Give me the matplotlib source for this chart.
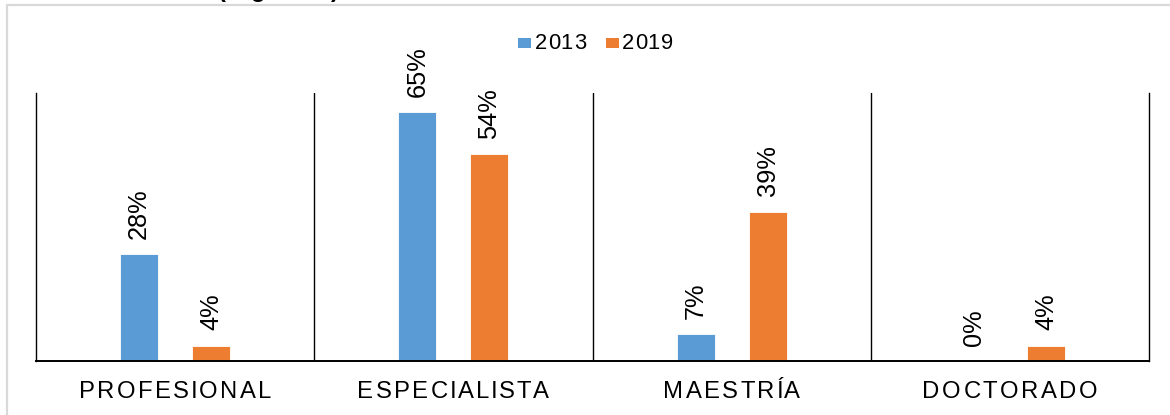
import matplotlib
matplotlib.use("Agg")
import matplotlib.pyplot as plt
import matplotlib.transforms as mtransforms
from matplotlib.patches import Rectangle
from matplotlib.font_manager import FontProperties, findfont
from matplotlib.ft2font import FT2Font, LoadFlags

# ---------------- data ----------------
categories = ["PROFESIONAL", "ESPECIALISTA", "MAESTRÍA", "DOCTORADO"]
series_names = ["2013", "2019"]
values_2013 = [28, 65, 7, 0]
values_2019 = [4, 54, 39, 4]
colors = ["#5B9BD5", "#ED7D31"]

FONT = "Liberation Sans"
STRETCH = 1.14  # reference text is horizontally stretched

W, H, DPI = 1170, 415, 100
fig = plt.figure(figsize=(W / DPI, H / DPI), dpi=DPI)
fig.patch.set_facecolor("white")

# chart frame (light gray, partly outside the picture)
fig.patches.append(Rectangle((7 / W, -0.2), 1.2, 1 - 5 / H + 0.2, transform=fig.transFigure,
                             fill=False, edgecolor="#D9D9D9", linewidth=1.6, zorder=0))


def advances(s, prop):
    f = FT2Font(findfont(prop))
    f.set_size(prop.get_size_in_points(), 72)
    out = []
    for c in s:
        g = f.load_char(ord(c), flags=LoadFlags.NO_HINTING)
        out.append(g.linearHoriAdvance / 65536.0)
    return out


def stretched_text(x, y, s, size, transform, ha="center", color="black", weight="normal", k=STRETCH):
    prop = FontProperties(family=FONT, size=size, weight=weight)
    adv = advances(s, prop)
    total = k * sum(adv)
    if ha == "center":
        start = -total / 2
    elif ha == "left":
        start = 0.0
    else:
        start = -total
    pos = start
    for c, a in zip(s, adv):
        off = mtransforms.offset_copy(transform, fig=fig, x=pos + (k - 1) * a / 2, y=0, units="points")
        fig.text(x, y, c, fontproperties=prop, color=color, ha="left", va="baseline",
                 transform=off, clip_on=False)
        pos += k * a


# partial caption cut at the top of the picture
stretched_text(217 / W, 1 + 3.5 / H, "(Figura 1)", 17, fig.transFigure, ha="left", weight="bold")

# axes
ax = fig.add_axes([36 / W, 54 / H, 1113 / W, 268 / H])
ax.set_xlim(-0.5, len(categories) - 0.5)
ax.set_ylim(0, 70)
ax.spines["top"].set_visible(False)
for side in ["left", "right"]:
    ax.spines[side].set_color("black")
    ax.spines[side].set_linewidth(1.0)
ax.spines["bottom"].set_color("black")
ax.spines["bottom"].set_linewidth(1.4)
ax.set_xticks([])
ax.set_yticks([])
for sep in [0.5, 1.5, 2.5]:
    ax.axvline(sep, color="black", linewidth=1.0)

bw = 38 / 278.25
off = 36 / 278.25
xs = list(range(len(categories)))
for vals, col, sgn in [(values_2013, colors[0], -1), (values_2019, colors[1], 1)]:
    bx = [x + sgn * off for x in xs]
    ax.bar(bx, vals, width=bw, color=col, edgecolor="white", linewidth=0.6, zorder=2)
    for x, v in zip(bx, vals):
        ax.annotate(f"{v}%", (x, v), xytext=(0, 11.0), textcoords="offset points",
                    rotation=90, ha="center", va="bottom", fontsize=18.3,
                    family=FONT, color="black")

# category labels (stretched)
xt = mtransforms.blended_transform_factory(ax.transData, fig.transFigure)
for x, cat in zip(xs, categories):
    stretched_text(x, 17 / H, cat, 17.2, xt, ha="center")

# legend (manual, centered at top)
fig.patches.append(Rectangle((518 / W, 1 - 48 / H), 13 / W, 10 / H, transform=fig.transFigure,
                             facecolor=colors[0], edgecolor="none"))
stretched_text(534 / W, 1 - 49 / H, series_names[0], 15.8, fig.transFigure, ha="left", k=1.08)
fig.patches.append(Rectangle((606 / W, 1 - 48 / H), 13 / W, 10 / H, transform=fig.transFigure,
                             facecolor=colors[1], edgecolor="none"))
stretched_text(621 / W, 1 - 49 / H, series_names[1], 15.8, fig.transFigure, ha="left", k=1.08)

fig.savefig("out.png", dpi=DPI)
